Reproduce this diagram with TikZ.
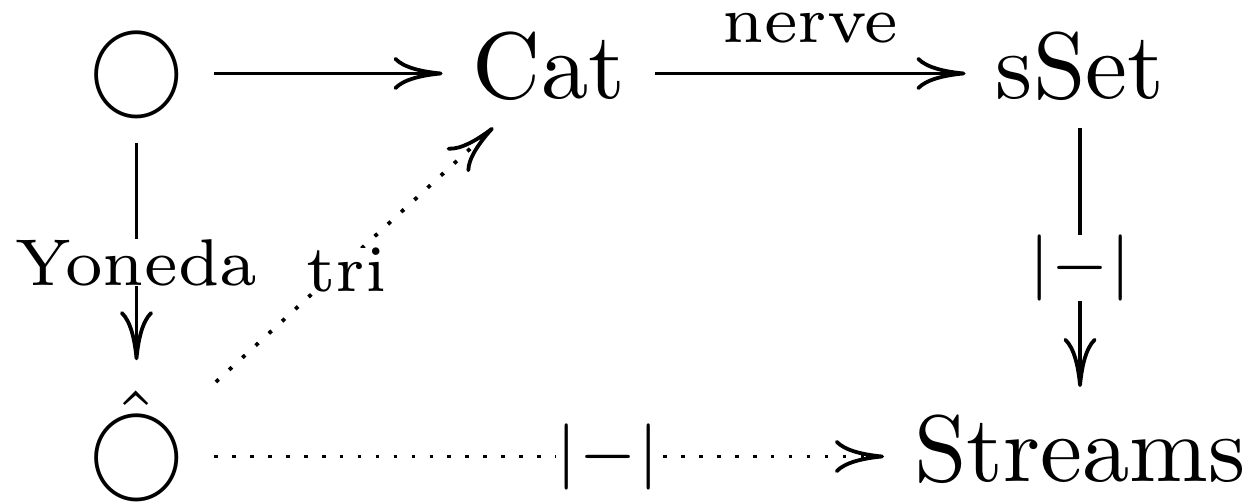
\documentclass[tikz,border=0pt]{standalone}
\usetikzlibrary{arrows.meta}
\tikzset{
  obj/.style={inner sep=3pt, anchor=base, font=\fontsize{10}{12}\selectfont},
  lbl/.style={inner sep=0pt, fill=white, font=\fontsize{7}{8.4}\selectfont},
  toplbl/.style={inner sep=3pt, above, font=\fontsize{7}{8.4}\selectfont},
  arr/.style={line width=0.4pt, -{Computer Modern Rightarrow[length=5.2pt,width=3.5pt]}},
  dots/.style={dash pattern=on 0.4pt off 1.5pt},
}
\begin{document}
\begin{tikzpicture}[x=0.1058pt,y=-0.1058pt]
\useasboundingbox (0,0) rectangle (1254,502);
\node[obj] (c1) at (136.5,98) {$\bigcirc$};
\node[obj] (cat) at (549,98) {Cat};
\node[obj] (sset) at (1080,98) {sSet};
\node[obj] (oh) at (136.5,481) {$\hat{\bigcirc}$};
\node[obj] (st) at (1080,481) {Streams};
\draw[arr] ([yshift=2.6pt]c1.base east) -- ([yshift=2.6pt]cat.base west);
\draw[arr] ([yshift=2.6pt]cat.base east) -- node[toplbl]{nerve} ([yshift=2.6pt]sset.base west);
\draw[arr] ([yshift=0.4pt]c1.south) -- node[lbl, pos=0.55]{Yoneda} (oh.north);
\draw[arr, dots] ([xshift=0.2pt,yshift=-2.3pt]oh.north east) -- node[lbl, pos=0.47, yshift=-0.8pt]{tri} ([xshift=-5.9pt,yshift=0.3pt]cat.south);
\draw[arr] ([yshift=0.3pt]sset.south) -- node[lbl, pos=0.54]{$|{-}|$} ([yshift=-0.3pt]st.north);
\draw[arr, dots] ([yshift=2.6pt]oh.base east) -- node[lbl, pos=0.588]{$|{-}|$} ([yshift=2.6pt]st.base west);
\end{tikzpicture}
\end{document}
